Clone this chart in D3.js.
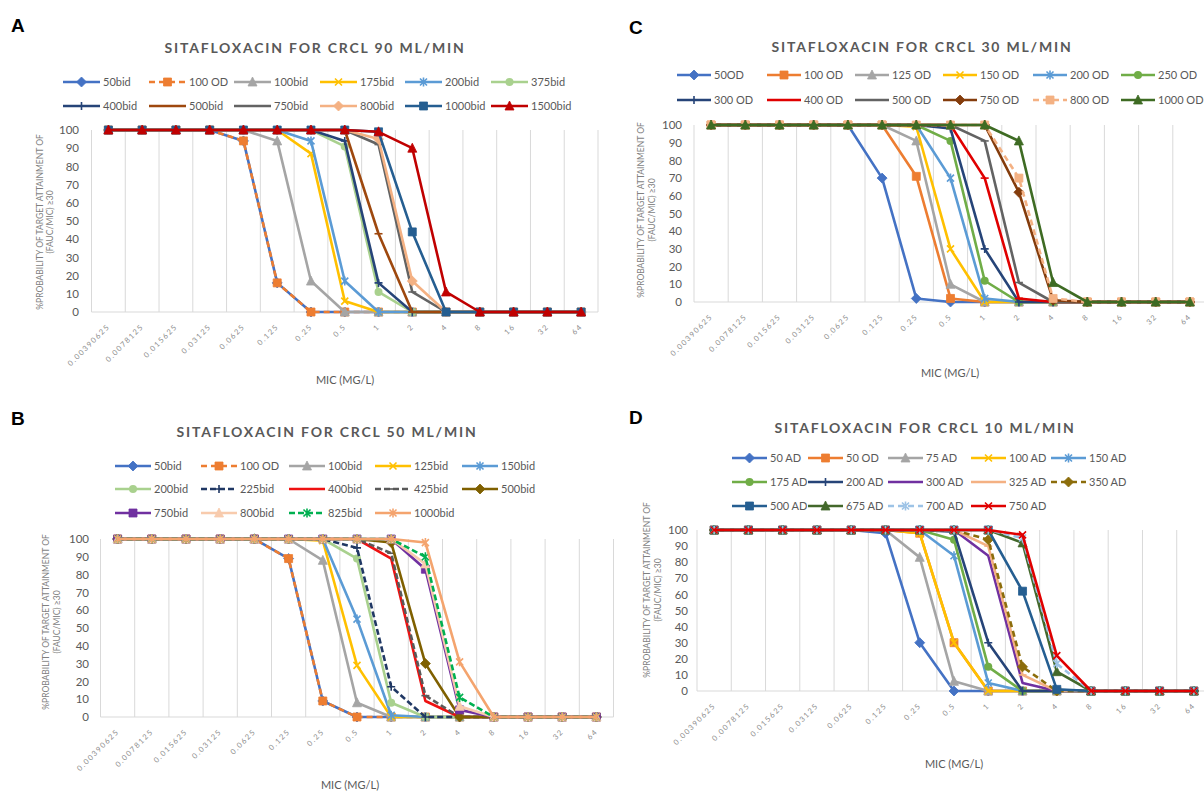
<!DOCTYPE html>
<html><head><meta charset="utf-8">
<script src="https://cdn.jsdelivr.net/npm/d3@7"></script>
<style>body{margin:0;background:#fff}svg{display:block}</style>
</head><body>
<svg id="chart" width="1204" height="792"></svg>
<script>
// ---------- DATA ----------
const categories = ["0.00390625","0.0078125","0.015625","0.03125","0.0625","0.125","0.25","0.5","1","2","4","8","16","32","64"];
const yTicks = [0,10,20,30,40,50,60,70,80,90,100];
const yTitle1 = "%PROBABILITY OF TARGET ATTAINMENT OF";
const yTitle2 = "(FAUC/MIC) \u226530";
const xTitle = "MIC (MG/L)";

const titleA = "SITAFLOXACIN FOR CRCL 90 ML/MIN";
const namesA = ["50bid","100 OD","100bid","175bid","200bid","375bid","400bid","500bid","750bid","800bid","1000bid","1500bid"];
const valuesA = [
  [100,100,100,100,94,16,0,0,0,0,0,0,0,0,0],
  [100,100,100,100,94,16,0,0,0,0,0,0,0,0,0],
  [100,100,100,100,100,94,17,0,0,0,0,0,0,0,0],
  [100,100,100,100,100,100,87,6,0,0,0,0,0,0,0],
  [100,100,100,100,100,100,94,17,0,0,0,0,0,0,0],
  [100,100,100,100,100,100,100,91,11,0,0,0,0,0,0],
  [100,100,100,100,100,100,100,94,16,0,0,0,0,0,0],
  [100,100,100,100,100,100,100,100,43,0,0,0,0,0,0],
  [100,100,100,100,100,100,100,100,92,11,0,0,0,0,0],
  [100,100,100,100,100,100,100,100,95,17,0,0,0,0,0],
  [100,100,100,100,100,100,100,100,99,44,0,0,0,0,0],
  [100,100,100,100,100,100,100,100,99,90,11,0,0,0,0]
];

const titleB = "SITAFLOXACIN FOR CRCL 50 ML/MIN";
const namesB = ["50bid","100 OD","100bid","125bid","150bid","200bid","225bid","400bid","425bid","500bid","750bid","800bid","825bid","1000bid"];
const valuesB = [
  [100,100,100,100,100,89,9,0,0,0,0,0,0,0,0],
  [100,100,100,100,100,89,9,0,0,0,0,0,0,0,0],
  [100,100,100,100,100,100,88,8,0,0,0,0,0,0,0],
  [100,100,100,100,100,100,99,29,0,0,0,0,0,0,0],
  [100,100,100,100,100,100,100,55,1,0,0,0,0,0,0],
  [100,100,100,100,100,100,100,89,8,0,0,0,0,0,0],
  [100,100,100,100,100,100,100,95,17,0,0,0,0,0,0],
  [100,100,100,100,100,100,100,100,89,9,0,0,0,0,0],
  [100,100,100,100,100,100,100,100,92,12,0,0,0,0,0],
  [100,100,100,100,100,100,100,100,98,30,0,0,0,0,0],
  [100,100,100,100,100,100,100,100,100,83,4,0,0,0,0],
  [100,100,100,100,100,100,100,100,100,86,6,0,0,0,0],
  [100,100,100,100,100,100,100,100,100,90,11,0,0,0,0],
  [100,100,100,100,100,100,100,100,100,98,31,0,0,0,0]
];

const titleC = "SITAFLOXACIN FOR CRCL 30 ML/MIN";
const namesC = ["50OD","100 OD","125 OD","150 OD","200 OD","250 OD","300 OD","400 OD","500 OD","750 OD","800 OD","1000 OD"];
const valuesC = [
  [100,100,100,100,100,70,2,0,0,0,0,0,0,0,0],
  [100,100,100,100,100,100,71,2,0,0,0,0,0,0,0],
  [100,100,100,100,100,100,91,10,0,0,0,0,0,0,0],
  [100,100,100,100,100,100,99,30,0,0,0,0,0,0,0],
  [100,100,100,100,100,100,100,70,2,0,0,0,0,0,0],
  [100,100,100,100,100,100,100,91,12,0,0,0,0,0,0],
  [100,100,100,100,100,100,100,98,30,0,0,0,0,0,0],
  [100,100,100,100,100,100,100,100,70,2,0,0,0,0,0],
  [100,100,100,100,100,100,100,100,91,11,0,0,0,0,0],
  [100,100,100,100,100,100,100,100,100,62,1,0,0,0,0],
  [100,100,100,100,100,100,100,100,100,70,2,0,0,0,0],
  [100,100,100,100,100,100,100,100,100,91,11,0,0,0,0]
];

const titleD = "SITAFLOXACIN FOR CRCL 10 ML/MIN";
const namesD = ["50 AD","50 OD","75 AD","100 AD","150 AD","175 AD","200 AD","300 AD","325 AD","350 AD","500 AD","675 AD","700 AD","750 AD"];
const valuesD = [
  [100,100,100,100,100,98,30,0,0,0,0,0,0,0,0],
  [100,100,100,100,100,100,98,30,0,0,0,0,0,0,0],
  [100,100,100,100,100,100,83,6,0,0,0,0,0,0,0],
  [100,100,100,100,100,100,98,30,0,0,0,0,0,0,0],
  [100,100,100,100,100,100,100,84,5,0,0,0,0,0,0],
  [100,100,100,100,100,100,100,94,15,0,0,0,0,0,0],
  [100,100,100,100,100,100,100,99,30,0,0,0,0,0,0],
  [100,100,100,100,100,100,100,100,84,5,0,0,0,0,0],
  [100,100,100,100,100,100,100,100,90,10,0,0,0,0,0],
  [100,100,100,100,100,100,100,100,94,15,0,0,0,0,0],
  [100,100,100,100,100,100,100,100,100,62,1,0,0,0,0],
  [100,100,100,100,100,100,100,100,100,92,12,0,0,0,0],
  [100,100,100,100,100,100,100,100,100,95,17,0,0,0,0],
  [100,100,100,100,100,100,100,100,100,97,22,0,0,0,0]
];

// ---------- STYLES ----------
const stylesA = [
  {c:"#4472C4",m:"diamond"},{c:"#ED7D31",m:"square",d:"6,4"},{c:"#A5A5A5",m:"triangle"},
  {c:"#FFC000",m:"x"},{c:"#5B9BD5",m:"star"},{c:"#A9D18E",m:"circle"},
  {c:"#264478",m:"plus"},{c:"#9E480E",m:"dash"},{c:"#636363",m:"dash"},
  {c:"#F4B183",m:"diamond"},{c:"#255E91",m:"square"},{c:"#C00000",m:"triangle"}
];
const stylesB = [
  {c:"#4472C4",m:"diamond"},{c:"#ED7D31",m:"square",d:"6,4"},{c:"#A5A5A5",m:"triangle"},
  {c:"#FFC000",m:"x"},{c:"#5B9BD5",m:"star"},{c:"#A9D18E",m:"circle"},
  {c:"#203864",m:"plus",d:"6,3"},{c:"#EE1111",m:null},{c:"#595959",m:"dash",d:"6,3"},
  {c:"#7F6000",m:"diamond"},{c:"#7030A0",m:"square"},{c:"#F8CBAD",m:"triangle"},
  {c:"#00B050",m:"star",d:"6,3"},{c:"#F4A46E",m:"star"}
];
const stylesC = [
  {c:"#4472C4",m:"diamond"},{c:"#ED7D31",m:"square"},{c:"#A5A5A5",m:"triangle"},
  {c:"#FFC000",m:"x"},{c:"#5B9BD5",m:"star"},{c:"#70AD47",m:"circle"},
  {c:"#264478",m:"plus"},{c:"#E00000",m:"dash"},{c:"#636363",m:"dash"},
  {c:"#843C0C",m:"diamond"},{c:"#F4B183",m:"square",d:"6,4"},{c:"#3E6B23",m:"triangle"}
];
const stylesD = [
  {c:"#4472C4",m:"diamond"},{c:"#ED7D31",m:"square"},{c:"#A5A5A5",m:"triangle"},
  {c:"#FFC000",m:"x"},{c:"#5B9BD5",m:"star"},{c:"#70AD47",m:"circle"},
  {c:"#264478",m:"plus"},{c:"#7030A0",m:null},{c:"#F4B183",m:"dash"},
  {c:"#8C6D0B",m:"diamond",d:"6,4"},{c:"#255E91",m:"square"},{c:"#43682B",m:"triangle"},
  {c:"#9DC3E6",m:"star",d:"6,4"},{c:"#E00000",m:"x"}
];

const FONT = "Lato, 'Open Sans', sans-serif";
const svg = d3.select("#chart");
svg.append("rect").attr("width",1204).attr("height",792).attr("fill","#fff");
svg.append("defs").append("clipPath").attr("id","clipB")
  .append("rect").attr("x",0).attr("y",400).attr("width",602).attr("height",392);

function drawMarker(sel, type, color, x, y) {
  if (!type) return;
  const s = 4;
  if (type === "circle") {
    sel.append("circle").attr("cx",x).attr("cy",y).attr("r",s).attr("fill",color);
    return;
  }
  let d, filled = true;
  switch (type) {
    case "diamond": d = `M${x},${y-s-1}L${x+s+1},${y}L${x},${y+s+1}L${x-s-1},${y}Z`; break;
    case "square": d = `M${x-s},${y-s}h${2*s}v${2*s}h${-2*s}Z`; break;
    case "triangle": d = `M${x},${y-s-1}L${x+s+0.5},${y+s}L${x-s-0.5},${y+s}Z`; break;
    case "x": d = `M${x-3.5},${y-3.5}L${x+3.5},${y+3.5}M${x-3.5},${y+3.5}L${x+3.5},${y-3.5}`; filled=false; break;
    case "star": d = `M${x-3.5},${y-3.5}L${x+3.5},${y+3.5}M${x-3.5},${y+3.5}L${x+3.5},${y-3.5}M${x},${y-4.5}L${x},${y+4.5}`; filled=false; break;
    case "plus": d = `M${x-4},${y}L${x+4},${y}M${x},${y-4}L${x},${y+4}`; filled=false; break;
    case "dash": d = `M${x-4},${y}L${x+4},${y}`; filled=false; break;
  }
  const p = sel.append("path").attr("d",d);
  if (filled) p.attr("fill",color).attr("stroke",color).attr("stroke-width",0.8);
  else p.attr("fill","none").attr("stroke",color).attr("stroke-width",1.6);
}

function drawPanel(p) {
  const g = svg.append("g");
  const x = d3.scaleBand().domain(categories).range([p.x0, p.x1]);
  const bw = x.bandwidth();
  const cx = c => x(c) + bw / 2;
  const y = d3.scaleLinear().domain([0,100]).range([p.yBot, p.yTop]);

  // letter + title
  g.append("text").attr("x",p.labX).attr("y",p.labY).text(p.label)
    .attr("font-family","'Liberation Sans', Arial, sans-serif").attr("font-weight","bold")
    .attr("font-size",19).attr("fill","#000");
  g.append("text").attr("x",p.titleX).attr("y",p.titleY).attr("text-anchor","middle")
    .text(p.title).attr("font-family",FONT).attr("font-weight","bold")
    .attr("font-size",14).attr("letter-spacing","1.8px").attr("fill","#595959");

  // gridlines at category boundaries
  const bounds = categories.map(c => x(c)).concat([p.x1]);
  g.append("g").selectAll("line").data(bounds).join("line")
    .attr("x1",d=>d).attr("x2",d=>d).attr("y1",p.yTop).attr("y2",p.yBot)
    .attr("stroke","#D9D9D9").attr("stroke-width",1);
  g.append("line").attr("x1",p.x0).attr("x2",p.x1).attr("y1",p.yBot).attr("y2",p.yBot)
    .attr("stroke","#D9D9D9").attr("stroke-width",1);

  // y axis labels
  const ya = g.append("g").attr("transform",`translate(${p.yTickRight},0)`)
    .call(d3.axisLeft(y).tickValues(yTicks).tickSize(0).tickPadding(0));
  ya.select(".domain").remove();
  ya.attr("font-family",FONT).attr("font-size",11.5);
  ya.selectAll("text").attr("fill","#595959");

  // x axis labels (rotated)
  const xa = g.append("g").attr("transform",`translate(0,${p.yBot})`)
    .call(d3.axisBottom(x).tickSize(0));
  xa.select(".domain").remove();
  xa.attr("font-family",FONT).attr("font-size",7.5);
  xa.selectAll("text").attr("x",0).attr("y",0).attr("dy",0)
    .attr("text-anchor","end").attr("transform","translate(2,15) rotate(-45)")
    .attr("letter-spacing","1.5px").attr("fill","#8C8C8C");

  // axis titles
  const yt = g.append("g").attr("font-family",FONT).attr("font-size",8.5).attr("fill","#7F7F7F");
  yt.append("text").attr("transform",`translate(${p.yt1},${p.ytCY}) rotate(-90)`)
    .attr("text-anchor","middle").text(yTitle1);
  yt.append("text").attr("transform",`translate(${p.yt2},${p.ytCY}) rotate(-90)`)
    .attr("text-anchor","middle").text(yTitle2);
  g.append("text").attr("x",p.xtX).attr("y",p.xtY).attr("text-anchor","middle")
    .text(xTitle).attr("font-family",FONT).attr("font-size",11).attr("fill","#595959");

  // series
  const sg = g.append("g");
  if (p.clip) sg.attr("clip-path",`url(#${p.clip})`);
  const line = d3.line();
  p.names.forEach((name,i) => {
    const st = p.styles[i];
    const pts = categories.map((c,j) => [cx(c), y(p.values[i][j])]);
    sg.append("path").attr("d",line(pts)).attr("fill","none")
      .attr("stroke",st.c).attr("stroke-width",2.6)
      .attr("stroke-linejoin","round")
      .attr("stroke-dasharray",st.d || null);
    const mg = sg.append("g");
    pts.forEach(pt => drawMarker(mg, st.m, st.c, pt[0], pt[1]));
  });

  // legend
  const lg = g.append("g");
  p.names.forEach((name,i) => {
    const col = i % p.ncols, row = Math.floor(i / p.ncols);
    const lx = p.legX[col], ly = p.legY[row];
    const st = p.styles[i];
    lg.append("line").attr("x1",lx).attr("x2",lx+p.legW).attr("y1",ly).attr("y2",ly)
      .attr("stroke",st.c).attr("stroke-width",2.6).attr("stroke-dasharray",st.d || null);
    drawMarker(lg, st.m, st.c, lx + p.legW/2, ly);
    lg.append("text").attr("x",lx+p.legW+3).attr("y",ly).attr("dy","0.35em")
      .text(name).attr("font-family",FONT).attr("font-size",11).attr("fill","#595959");
  });
}

drawPanel({label:"A",labX:11,labY:32,title:titleA,titleX:315,titleY:53,
  x0:91.5,x1:598,yTop:130,yBot:312,yTickRight:79,yt1:43,yt2:53,ytCY:222,xtX:345,xtY:384,
  names:namesA,values:valuesA,styles:stylesA,ncols:6,legX:[63,149,234,320,405,491],legY:[82,106],legW:37});

drawPanel({label:"B",labX:11,labY:425,title:titleB,titleX:327,titleY:437,
  x0:100.5,x1:613.5,yTop:539,yBot:717,yTickRight:89,yt1:49,yt2:60,ytCY:622,xtX:350,xtY:789,clip:"clipB",
  names:namesB,values:valuesB,styles:stylesB,ncols:5,legX:[115,201,289,375,462],legY:[466,489,513],legW:36});

drawPanel({label:"C",labX:629,labY:34,title:titleC,titleX:922,titleY:52,
  x0:694,x1:1207,yTop:125,yBot:302,yTickRight:682,yt1:644,yt2:655,ytCY:210,xtX:950,xtY:377,
  names:namesC,values:valuesC,styles:stylesC,ncols:6,legX:[677,767,855,943,1033,1121],legY:[75,100],legW:34});

drawPanel({label:"D",labX:629,labY:424,title:titleD,titleX:925,titleY:433,
  x0:697,x1:1211,yTop:530,yBot:691,yTickRight:688,yt1:650,yt2:661,ytCY:590,xtX:954,xtY:768,
  names:namesD,values:valuesD,styles:stylesD,ncols:5,legX:[732,808,888,971,1051],legY:[458,482,506],legW:35});
</script>
</body></html>
